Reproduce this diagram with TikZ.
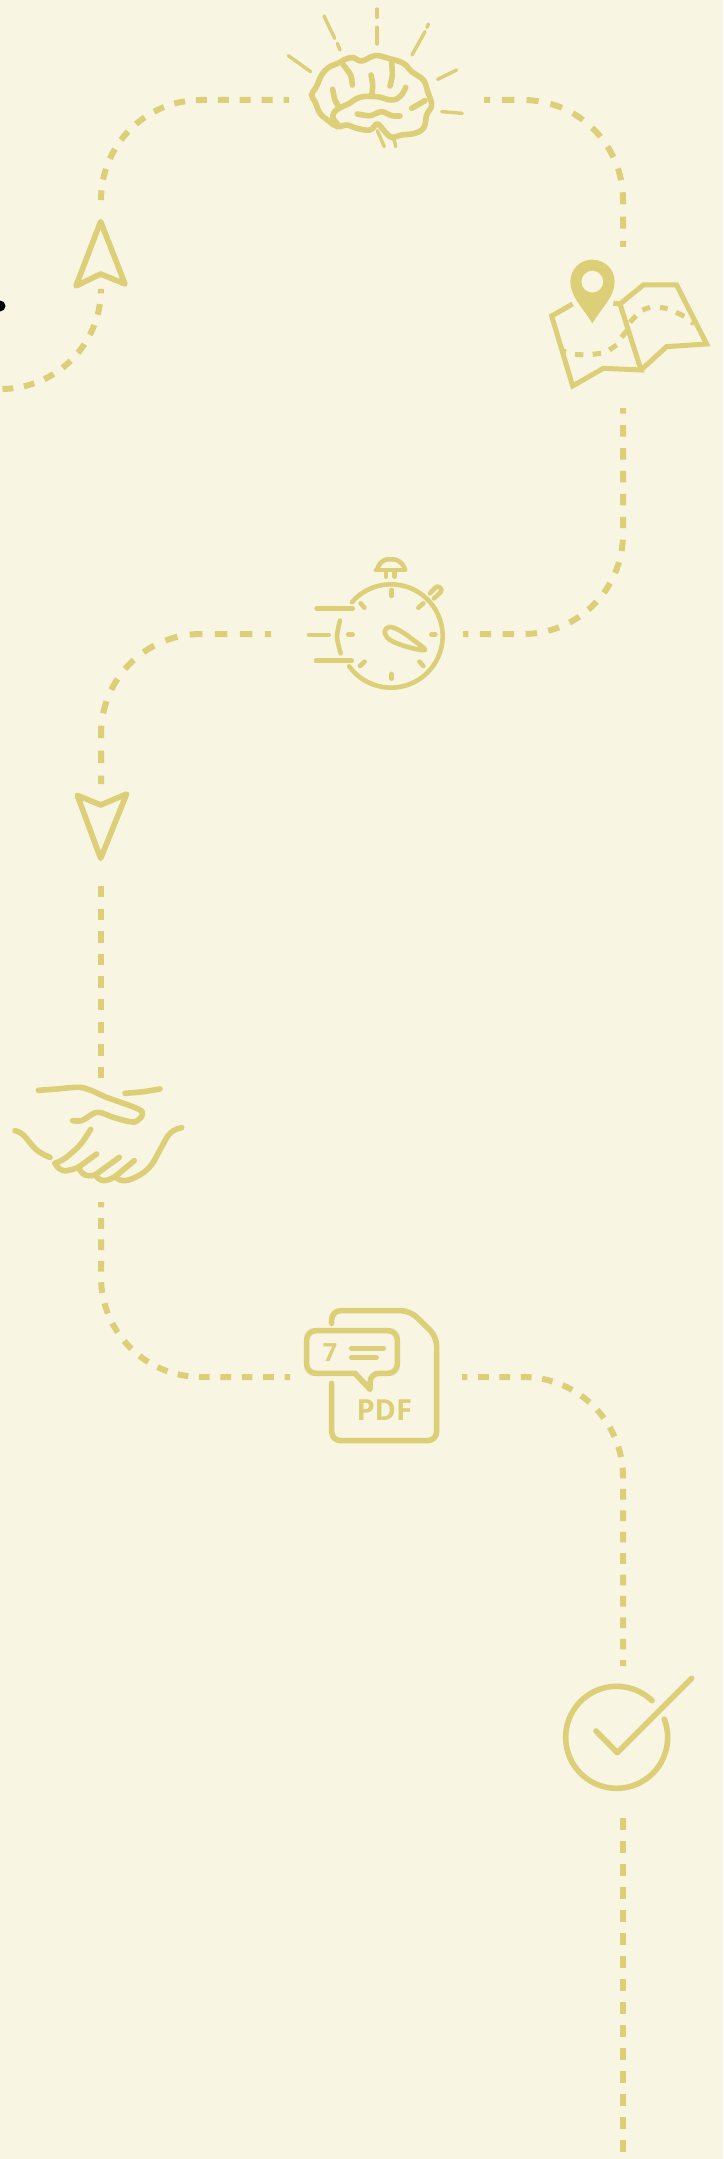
\documentclass[tikz,border=0pt]{standalone}
\usepackage{fontspec}
\setmainfont{Open Sans}
\definecolor{paper}{HTML}{F8F5E3}
\definecolor{sand}{HTML}{DDCE78}
\begin{document}
\begin{tikzpicture}[
        x=1pt, y=-1pt,
        trail/.style 2 args={draw=sand, line width=6pt, rounded corners=100pt, dash pattern=on #1pt off #1pt, dash phase=#2pt},
        icon/.style={draw=sand, line width=5.6pt, line cap=round, line join=round},
        thin icon/.style={draw=sand, line width=3.4pt, line cap=round, line join=round},
        mid icon/.style={draw=sand, line width=4.6pt, line cap=round, line join=round},
        crop/.style={x=0.3333pt, y=-0.3333pt},
        dotmark/.style={circle, fill=black, minimum size=11pt, inner sep=0pt},
        pdflabel/.style={text=sand, inner sep=0pt, font=\bfseries\fontsize{29}{29}\selectfont}
    ]
    \path[use as bounding box, fill=paper] (0,0) rectangle (723,2159);
    \clip (0,0) rectangle (723,2159);

    % --- Free ends of the trail ---
    \coordinate (brainleft) at (289,100);
    \coordinate (brainright) at (484,100);
    \coordinate (upnorth) at (101,196);
    \coordinate (upsouth) at (101,290);
    \coordinate (offleft) at (0,389);
    \coordinate (mapnorth) at (623,247);
    \coordinate (mapsouth) at (623,408);
    \coordinate (watchright) at (463,634);
    \coordinate (watchleft) at (271,634);
    \coordinate (downnorth) at (101,784);
    \coordinate (downsouth) at (101,886);
    \coordinate (handnorth) at (101,1078);
    \coordinate (handsouth) at (101,1202);
    \coordinate (pdfleft) at (290,1377);
    \coordinate (pdfright) at (462,1377);
    \coordinate (checknorth) at (623,1666);
    \coordinate (checksouth) at (623,1818);
    \coordinate (offbottom) at (623,2159);

    % --- Trail ---
    \draw[trail={10.95}{5.48}] (brainleft) -| (upnorth);
    \draw[trail={10.8}{5.4}] (upsouth) |- (offleft);
    \draw[trail={12.15}{6.08}] (brainright) -| (mapnorth);
    \draw[trail={11.45}{5.72}] (mapsouth) |- (watchright);
    \draw[trail={12.5}{6.25}] (watchleft) -| (downnorth);
    \draw[trail={11.3}{0}] (downsouth) -- (handnorth);
    \draw[trail={10.7}{5.35}] (handsouth) |- (pdfleft);
    \draw[trail={10.7}{5.35}] (pdfright) -| (checknorth);
    \draw[trail={11.5}{0}] (checksouth) -- (offbottom);

    \node[dotmark] (dot) at (0,306) {};

    % --- Brain ---
    \begin{scope}[shift={(260,0)}, crop]
        \draw[icon] plot[smooth cycle, tension=0.65] coordinates {(155,285) (170,258) (185,225) (205,203) (238,188) (255,178) (280,173) (305,183) (345,167) (385,175) (430,190) (455,215) (490,240) (503,275) (515,315) (500,345) (492,382) (465,400) (425,405) (395,412) (372,392) (352,372) (330,390) (290,385) (262,375) (232,380) (205,362) (180,340) (165,305)};
        \draw[icon] plot[smooth] coordinates {(250,195) (272,225) (277,255)};
        \draw[icon] plot[smooth] coordinates {(333,225) (338,255) (335,290)};
        \draw[icon] plot[smooth] coordinates {(395,190) (397,225) (390,258)};
        \draw[icon] plot[smooth] coordinates {(218,268) (225,300) (238,322)};
        \draw[icon] plot[smooth, tension=0.7] coordinates {(437,262) (422,288) (395,300) (350,290) (300,292) (265,312) (232,328) (218,350) (235,375)};
        \draw[icon] (455,325) -- (495,302);
        \draw[icon] plot[smooth] coordinates {(292,342) (330,347) (365,335) (395,347) (420,348)};
        \draw[thin icon] (352,392) -- (373,440);
        \draw[thin icon] plot[smooth] coordinates {(385,405) (403,422) (407,440)};
        \draw[thin icon] (85,167) -- (152,215);
        \draw[thin icon] (192,48) -- (224,115);
        \draw[thin icon] (232,130) -- (240,150);
        \draw[thin icon] (351,27) -- (351,52);
        \draw[thin icon] (351,82) -- (351,132);
        \draw[thin icon] (456,165) -- (495,95);
        \draw[thin icon] (501,82) -- (505,72);
        \draw[thin icon] (533,238) -- (590,210);
        \draw[thin icon] (545,335) -- (607,340);
    \end{scope}

    % --- Map ---
    \begin{scope}[shift={(530,200)}, crop]
        \draw[icon, line width=5pt, line cap=butt, line join=miter] (128,312) -- (65,348) -- (128,558) -- (220,505) -- (333,510) -- (270,312) -- (250,310);
        \draw[icon, line width=5pt, line cap=butt, line join=miter] (270,312) -- (340,255) -- (440,255) -- (530,432) -- (410,440) -- (333,510);
        \draw[icon, line width=5pt, line cap=butt] (95,452) -- (108,456) (135,463) -- (160,465) (188,463) -- (213,460) (238,450) -- (260,435) (275,412) -- (290,392) (300,367) -- (318,347) (337,330) -- (360,322) (390,322) -- (413,326) (438,337) -- (463,349) (485,365) -- (492,372);
        \fill[sand, even odd rule] (187,370) .. controls (160,325) and (121,290) .. (121,245) .. controls (121,208) and (150,179) .. (187,179) .. controls (224,179) and (254,208) .. (254,245) .. controls (254,290) and (214,325) .. (187,370) -- cycle (187,212) .. controls (169,212) and (154,227) .. (154,245) .. controls (154,263) and (169,278) .. (187,278) .. controls (205,278) and (220,263) .. (220,245) .. controls (220,227) and (205,212) .. (187,212) -- cycle;
    \end{scope}

    % --- Arrow up ---
    \begin{scope}[shift={(0,60)}, crop]
        \draw[icon] (302,485) -- (375,672) -- (302,642) -- (228,678) -- cycle;
    \end{scope}

    % --- Stopwatch ---
    \begin{scope}[shift={(290,540)}, crop]
        \draw[mid icon] plot[smooth, domain=139:-144, samples=50] ({303+155*cos(\x)},{288-155*sin(\x)});
        \draw[mid icon] (305,150) -- (305,168) (305,402) -- (305,416) (175,284) -- (188,284) (424,284) -- (436,284);
        \draw[mid icon] (212,190) -- (223,203) (385,203) -- (400,190) (388,365) -- (400,378) (210,378) -- (224,365);
        \draw[mid icon] (80,206) -- (188,206) (57,285) -- (116,285) (78,362) -- (185,362);
        \draw[mid icon] plot[smooth] coordinates {(150,242) (141,290) (152,340)};
        \draw[mid icon] (258,90) -- (345,90);
        \draw[mid icon] plot[smooth, tension=0.9] coordinates {(262,88) (275,66) (302,58) (330,66) (345,88)};
        \draw[mid icon] (288,95) -- (288,110) (314,95) -- (314,110);
        \draw[mid icon] plot[smooth] coordinates {(420,160) (440,140) (452,145) (453,155) (432,175)};
        \draw[mid icon] plot[smooth cycle, tension=0.6] coordinates {(405,330) (350,320) (300,300) (284,275) (298,261) (330,272) (370,300)};
    \end{scope}

    % --- Arrow down ---
    \begin{scope}[shift={(0,750)}, crop]
        \draw[icon] (232,136) -- (302,165) -- (380,132) -- (302,325) -- cycle;
    \end{scope}

    % --- Handshake ---
    \begin{scope}[shift={(0,1060)}, crop]
        \draw[icon] plot[smooth, tension=0.7] coordinates {(115,91) (170,87) (235,82) (270,90) (320,112) (410,145) (427,162) (412,182) (390,185) (340,172) (295,157) (265,170) (245,182) (218,182)};
        \draw[icon] plot[smooth] coordinates {(375,100) (430,95) (480,87)};
        \draw[icon] plot[smooth, tension=0.7] coordinates {(45,212) (70,225) (110,270) (150,292)};
        \draw[icon] plot[smooth] coordinates {(272,208) (240,255) (195,295) (165,310)};
        \draw[icon] plot[smooth, tension=0.8] coordinates {(165,310) (190,332) (235,322)};
        \draw[icon] (290,282) -- (235,322);
        \draw[icon] plot[smooth, tension=0.8] coordinates {(235,322) (255,345) (285,345)};
        \draw[icon] (358,292) -- (285,345);
        \draw[icon] plot[smooth, tension=0.8] coordinates {(285,345) (310,362) (345,350)};
        \draw[icon] (403,302) -- (345,350);
        \draw[icon] plot[smooth, tension=0.7] coordinates {(345,350) (370,362) (410,350) (450,320) (480,270) (510,220) (545,203)};
    \end{scope}

    % --- PDF ---
    \begin{scope}[shift={(290,1290)}, crop]
        \draw[icon, rounded corners=9pt] (125,100) -- (125,62) -- (360,62) -- (440,140) -- (440,452) -- (125,452) -- (125,280);
        \draw[icon] (195,250) [rounded corners=9pt] -- (50,250) -- (50,122) -- (322,122) -- (322,250) -- (240,250) [sharp corners] -- (240,298) -- cycle;
        \draw[icon] (185,175) -- (280,175) (185,203) -- (258,203);
        \node[pdflabel] (pdftext) at (283,360) {PDF};
        \node[pdflabel, font=\bfseries\fontsize{25}{25}\selectfont] (pagenum) at (120,187) {7};
    \end{scope}

    % --- Check ---
    \begin{scope}[shift={(550,1660)}, crop]
        \draw[icon] plot[smooth, domain=46:381, samples=60] ({200+153*cos(\x)},{232-153*sin(\x)});
        \draw[icon] (138,213) -- (202,278) -- (425,55);
    \end{scope}

    \end{tikzpicture}
\end{document}
